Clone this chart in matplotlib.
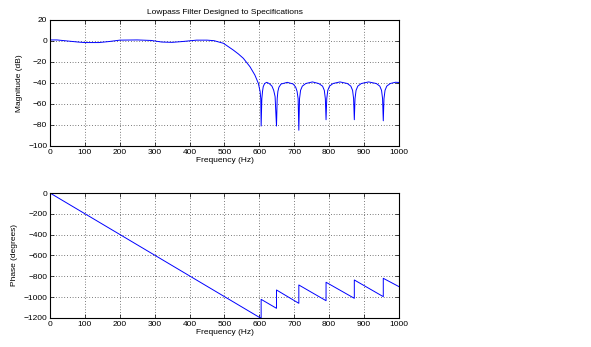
import numpy as np
import matplotlib
matplotlib.use("Agg")
import matplotlib.pyplot as plt

plt.rcParams['font.family'] = ['Liberation Sans', 'DejaVu Sans']
plt.rcParams['font.size'] = 6

# magnitude response (dB)
mag_freq = [0, 20, 50, 80, 100, 140, 170, 200, 250, 290, 320, 350, 380, 420, 450, 470,
            497, 525, 540, 554, 573, 587, 597, 602, 604, 605,
            607, 609, 611, 615, 621, 628, 636, 641, 645, 649,
            651, 653, 656, 662, 680, 697, 704, 708, 711, 713,
            715, 718, 723, 733, 752, 770, 781, 786, 789, 791,
            793, 796, 801, 811, 831, 852, 862, 867, 870, 872,
            874, 877, 882, 892, 913, 935, 945, 950, 953, 955,
            957, 960, 965, 975, 990, 1000]
mag_db = [1, 1, 0, -1, -1.5, -1.5, -0.5, 0.8, 1, 0.5, -1, -1.3, -0.5, 0.8, 0.8, 0.3,
          -2.2, -8.6, -12.4, -16.5, -24.5, -32.4, -40.3, -48, -55, -81,
          -55, -48, -43.5, -40.5, -39.4, -40.5, -43, -47, -53, -81,
          -55, -48, -44, -41, -39.4, -41, -44, -48, -55, -85,
          -55, -47, -43, -40.5, -39, -40.5, -43, -47, -55, -75,
          -55, -47, -43, -40.5, -39, -40.5, -43, -47, -55, -75,
          -55, -47, -43, -40.5, -39, -40.5, -43, -47, -55, -76,
          -55, -47, -43, -40.5, -39.3, -39.5]

# unwrapped phase (degrees), jumps at the stopband nulls
phase_freq = [0, 603, 605, 605, 649, 649, 713, 713, 791, 791, 872, 872, 955, 955, 1000]
phase_deg = [0, -1200, -1205, -1021, -1107, -931, -1059, -883, -1034, -857, -1011, -835,
             -995, -819, -899]

fig = plt.figure(figsize=(5.91, 3.47), dpi=100)
ax1 = fig.add_axes([0.0846, 0.5793, 0.5905, 0.3631])
ax2 = fig.add_axes([0.0846, 0.0836, 0.5905, 0.3602])

ax1.plot(mag_freq, mag_db, color='blue', lw=0.7)
ax1.set_xlim(0, 1000)
ax1.set_ylim(-100, 20)
ax1.set_yticks(np.arange(-100, 21, 20))
ax1.set_ylabel('Magnitude (dB)')
ax1.set_xlabel('Frequency (Hz)', labelpad=1)
ax1.set_title('Lowpass Filter Designed to Specifications', fontsize=6, pad=4)

ax2.plot(phase_freq, phase_deg, color='blue', lw=0.7)
ax2.set_xlim(0, 1000)
ax2.set_ylim(-1200, 0)
ax2.set_yticks(np.arange(-1200, 1, 200))
ax2.set_ylabel('Phase (degrees)')
ax2.set_xlabel('Frequency (Hz)', labelpad=1)

for ax in (ax1, ax2):
    ax.set_xticks(np.arange(0, 1001, 100))
    ax.grid(True, linestyle=(0, (1, 3)), color='black', lw=0.5)
    ax.tick_params(direction='in', top=True, right=True, length=3, width=0.5, pad=2)
    for s in ax.spines.values():
        s.set_linewidth(0.8)

fig.savefig('out.png', dpi=100)
